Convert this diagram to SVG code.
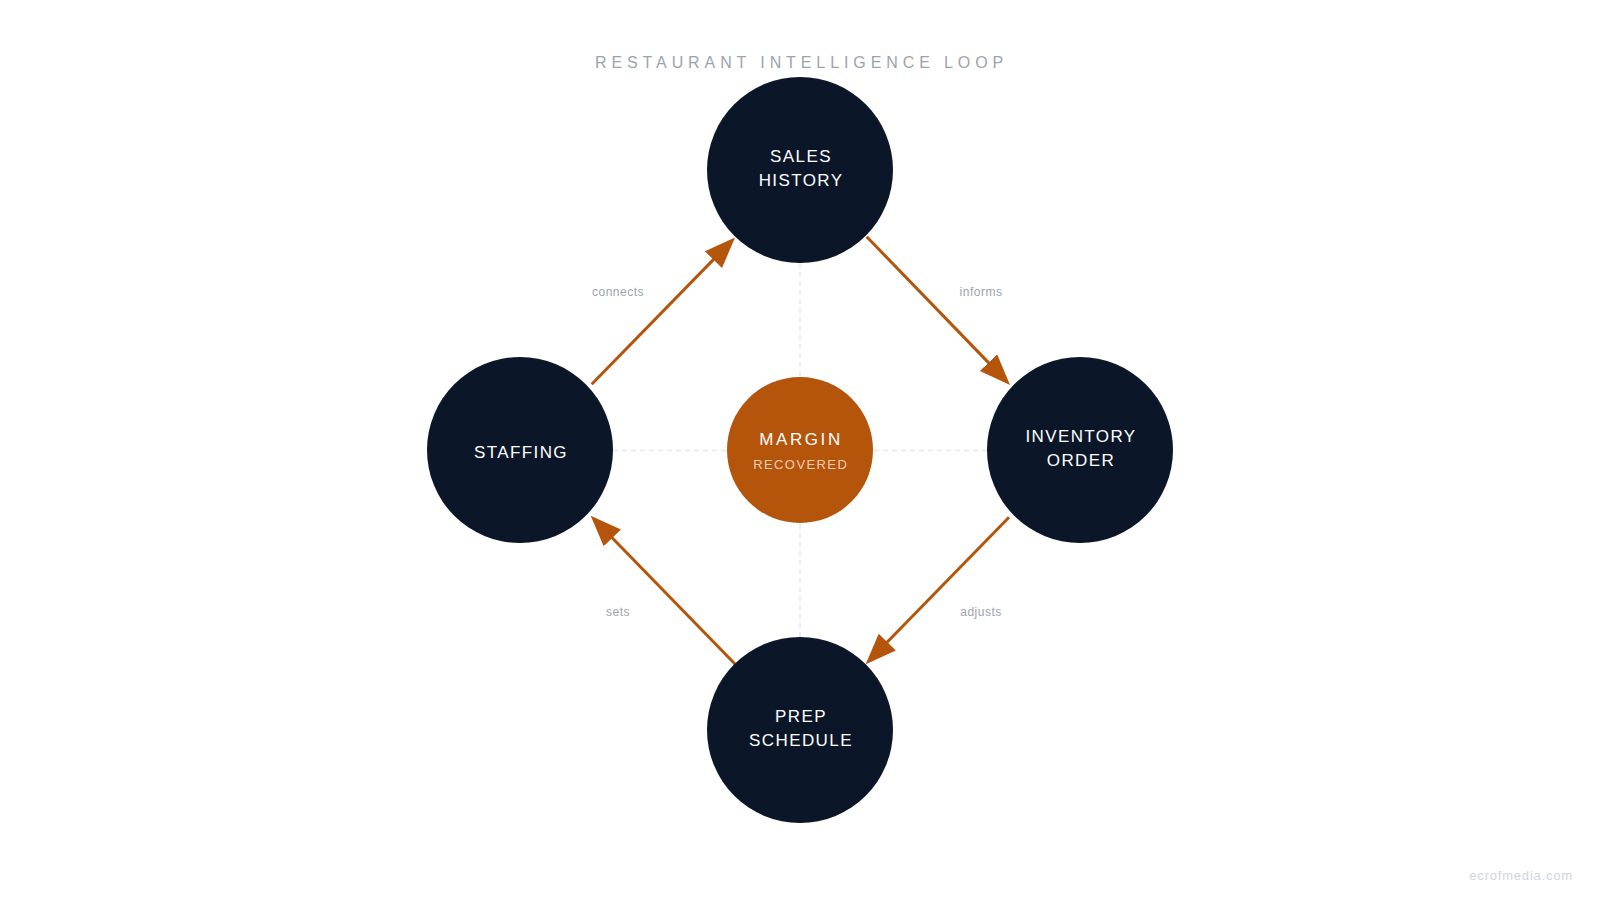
<svg xmlns="http://www.w3.org/2000/svg" width="1600" height="900" viewBox="0 0 1600 900">
  <style>
    .node { fill: #0b1729; }
    .core { fill: #b5540b; }
    .ntext { font-family: "Liberation Sans", Arial, sans-serif; font-size: 17px; letter-spacing: 1.4px; fill: #ffffff; text-anchor: middle; }
    .elabel { font-family: "Liberation Sans", Arial, sans-serif; font-size: 12px; letter-spacing: 0.5px; fill: #9ca3af; text-anchor: middle; }
    .edge { stroke: #b5540b; stroke-width: 3; fill: none; }
    .guide { stroke: #e5e7eb; stroke-width: 1.5; stroke-dasharray: 5 4; fill: none; }
  </style>
  <defs>
    <marker id="arrow" markerUnits="userSpaceOnUse" markerWidth="34" markerHeight="26" refX="1" refY="12" orient="auto">
      <path d="M0,0 L31,12 L0,24 Z" fill="#b5540b"/>
    </marker>
  </defs>
  <rect width="1600" height="900" fill="#ffffff"/>

  <text x="595" y="68" font-family="Liberation Sans, Arial, sans-serif" font-size="16" letter-spacing="4.9" fill="#9ca3af">RESTAURANT INTELLIGENCE LOOP</text>

  <g id="guides">
    <line class="guide" x1="800" y1="263" x2="800" y2="637"/>
    <line class="guide" x1="613" y1="450.5" x2="987" y2="450.5"/>
  </g>

  <g id="connectors">
    <line class="edge" x1="591.7" y1="384.3" x2="714.1" y2="258.9" marker-end="url(#arrow)"/>
    <line class="edge" x1="866.7" y1="236.7" x2="989.2" y2="363.4" marker-end="url(#arrow)"/>
    <line class="edge" x1="1009" y1="517.3" x2="886.6" y2="642.8" marker-end="url(#arrow)"/>
    <line class="edge" x1="735" y1="664" x2="611.6" y2="537.2" marker-end="url(#arrow)"/>
    <text class="elabel" x="618" y="296">connects</text>
    <text class="elabel" x="981" y="296">informs</text>
    <text class="elabel" x="981" y="616">adjusts</text>
    <text class="elabel" x="618" y="616">sets</text>
  </g>

  <g id="sales-history">
    <circle class="node" cx="800" cy="170" r="93"/>
    <text class="ntext" x="801" y="162">SALES</text>
    <text class="ntext" x="801" y="186">HISTORY</text>
  </g>

  <g id="inventory-order">
    <circle class="node" cx="1080" cy="450" r="93"/>
    <text class="ntext" x="1081" y="442">INVENTORY</text>
    <text class="ntext" x="1081" y="466">ORDER</text>
  </g>

  <g id="prep-schedule">
    <circle class="node" cx="800" cy="730" r="93"/>
    <text class="ntext" x="801" y="722">PREP</text>
    <text class="ntext" x="801" y="746">SCHEDULE</text>
  </g>

  <g id="staffing">
    <circle class="node" cx="520" cy="450" r="93"/>
    <text class="ntext" x="521" y="458">STAFFING</text>
  </g>

  <g id="margin">
    <circle class="core" cx="800" cy="450" r="73"/>
    <text x="801" y="445" font-family="Liberation Sans, Arial, sans-serif" font-size="17" letter-spacing="2.6" fill="#ffffff" text-anchor="middle">MARGIN</text>
    <text x="800.7" y="469" font-family="Liberation Sans, Arial, sans-serif" font-size="13" letter-spacing="1.4" fill="#f3cdb3" text-anchor="middle">RECOVERED</text>
  </g>

  <text x="1573" y="880" font-family="Liberation Sans, Arial, sans-serif" font-size="13" letter-spacing="0.8" fill="#d1d5db" text-anchor="end">ecrofmedia.com</text>
</svg>
